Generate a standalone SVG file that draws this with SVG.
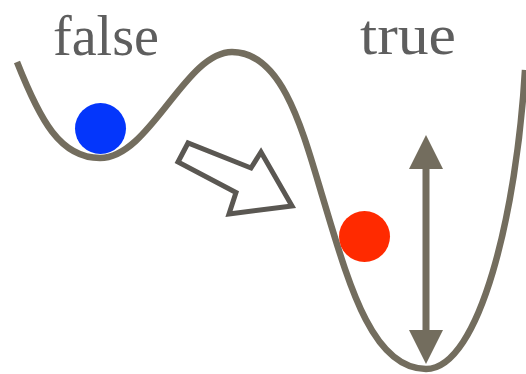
<svg xmlns="http://www.w3.org/2000/svg" width="526" height="374" viewBox="0 0 526 374">
<style>
.lbl{font-family:"Liberation Serif","Times New Roman",serif;font-size:56px;fill:#5e5e5e}
.curve{fill:none;stroke:#736d5e;stroke-width:6.5;stroke-linecap:butt}
.hollow{fill:#ffffff;stroke:#5a5752;stroke-width:5;stroke-linejoin:miter}
.dbl{stroke:#736d5e;stroke-width:7}
.head{fill:#736d5e}
</style>
<rect width="526" height="374" fill="#ffffff"/>
<g id="landscape">
<path class="curve" d="M17 62 C40 120 60 158 100 158 C150 158 185 52 232 52 C282 52 302 128 322 195 C348 281 371 369 426 369 C480 369 517 210 525 70"/>
</g>
<g id="label-false"><text class="lbl" x="53" y="55" textLength="106" lengthAdjust="spacingAndGlyphs">false</text></g>
<g id="label-true"><text class="lbl" x="360" y="54" textLength="96" lengthAdjust="spacingAndGlyphs">true</text></g>
<g id="ball-blue"><circle cx="100.5" cy="128.5" r="25.5" fill="#0436fb"/></g>
<g id="ball-red"><circle cx="364.5" cy="236.5" r="25.5" fill="#ff2a00"/></g>
<g id="connectors">
<polygon class="hollow" points="188,143 178,162 236,192.5 229,214 292,206 261,152 251,168"/>
<line class="dbl" x1="426" y1="165" x2="426" y2="334"/>
<polygon class="head" points="426,135 443,169 409,169"/>
<polygon class="head" points="426,364 443,330 409,330"/>
</g>
</svg>
